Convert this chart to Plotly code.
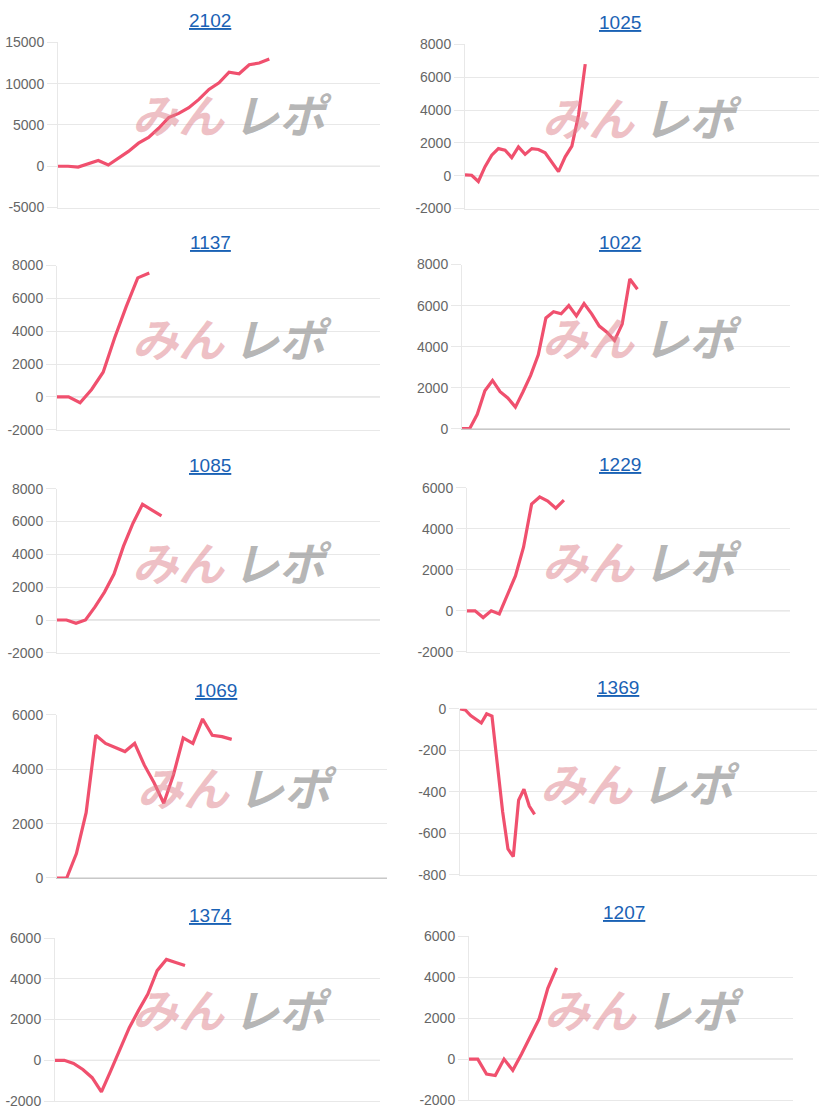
"""
Ten small profit curves (みんレポ style cards), two per row.
"""
import plotly.graph_objects as go

# chart codes, in reading order
codes = ["2102", "1025", "1137", "1022", "1085", "1229", "1069", "1369", "1374", "1207"]

# cumulative values per chart (one point per day)
v2102 = [0, 0, -100, 300, 700, 150, 1000, 1800, 2800, 3500, 4600, 5900, 6400,
         7100, 8100, 9300, 10100, 11400, 11200, 12300, 12500, 13000]
v1025 = [50, 30, -350, 550, 1250, 1650, 1550, 1100, 1750, 1300, 1650, 1600, 1400,
         800, 250, 1150, 1800, 3700, 6800]
v1137 = [0, 0, -360, 450, 1500, 3600, 5500, 7250, 7550]
v1022 = [0, 0, 700, 1850, 2350, 1800, 1500, 1050, 1800, 2600, 3600, 5400, 5700,
         5600, 6000, 5500, 6100, 5600, 5000, 4700, 4300, 5100, 7300, 6800]
v1085 = [0, 0, -200, 0, 800, 1700, 2800, 4500, 5900, 7050, 6700, 6350]
v1229 = [0, 0, -330, 0, -150, 800, 1700, 3100, 5200, 5550, 5350, 5000, 5400]
v1069 = [0, 0, 900, 2400, 5250, 4950, 4800, 4650, 4950, 4150, 3500, 2750, 3800,
         5150, 4950, 5850, 5250, 5200, 5100]
v1369 = [0, -5, -32, -48, -68, -24, -35, -265, -495, -675, -712, -440, -387,
         -468, -508]
v1374 = [0, 0, -150, -450, -850, -1550, -520, 540, 1600, 2450, 3250, 4400, 4950,
         4800, 4650]
v1207 = [0, 0, -730, -800, 0, -550, 250, 1100, 1950, 3450, 4450]

series = [v2102, v1025, v1137, v1022, v1085, v1229, v1069, v1369, v1374, v1207]

# number of day slots on each x axis
day_slots = [33, 54, 29, 44, 35, 41, 35, 68, 36, 38]

# y axis: (min, max, step)
y_scales = [(-5000, 15000, 5000), (-2000, 8000, 2000), (-2000, 8000, 2000),
            (0, 8000, 2000), (-2000, 8000, 2000), (-2000, 6000, 2000),
            (0, 6000, 2000), (-800, 0, 200), (-2000, 6000, 2000),
            (-2000, 6000, 2000)]

W, H = 820, 1115
# the rendered page came out squeezed vertically (~8px top/bottom), so undo that
Y_OFF, Y_SCALE = 7.6, 0.985


def px(x):
    return x / W


def py(y):
    return 1 - ((y - Y_OFF) / Y_SCALE) / H


# page pixels: plot box (left, right, top, bottom), title centre, watermark split point
boxes = [(58, 380, 42, 207), (465, 819, 44, 208),
         (57, 380, 265, 429), (462, 790, 264, 428),
         (57, 380, 488, 652), (467, 790, 487, 651),
         (57, 387, 714, 877), (460, 817, 708, 874),
         (55, 380, 937, 1100), (469, 793, 935, 1099)]
title_pos = [(210, 20), (620, 22), (210, 242), (620, 242), (210, 465),
             (620, 464), (216, 690), (618, 687), (210, 915), (624, 912)]
mark_pos = [(228, 113), (638, 116), (228, 336), (638, 335), (228, 560),
            (638, 559), (233, 785), (636, 781), (228, 1007), (640, 1007)]

LINE = "#f0506e"
GRID = "#e8e8e8"
ZERO = "#c8c8c8"
FONT = "Liberation Sans, Arial, sans-serif"
JP = "Noto Sans CJK JP"

fig = go.Figure()
annotations = []
shapes = []
layout = {}

for i, (code, vals, slots, (ymin, ymax, step)) in enumerate(
        zip(codes, series, day_slots, y_scales), start=1):
    n = "" if i == 1 else str(i)
    xa, ya = f"x{n}", f"y{n}"
    fig.add_trace(go.Scatter(
        x=list(range(len(vals))), y=vals, mode="lines",
        line=dict(color=LINE, width=3.2), xaxis=xa, yaxis=ya,
        showlegend=False, hoverinfo="skip",
    ))

    left, right, top, bottom = boxes[i - 1]
    ticks = list(range(ymin, ymax + 1, step))
    layout[f"xaxis{n}"] = dict(
        domain=[px(left), px(right)], range=[0, slots - 1], anchor=ya,
        showgrid=False, zeroline=False, showticklabels=False, ticks="",
        showline=True, linecolor=ZERO if ymin == 0 else GRID, linewidth=1,
        fixedrange=True,
    )
    layout[f"yaxis{n}"] = dict(
        domain=[max(py(bottom), 0), min(py(top), 1)], range=[ymin, ymax], anchor=xa,
        tickvals=ticks, ticktext=[str(t) for t in ticks],
        showgrid=True, gridcolor=GRID, gridwidth=1, zeroline=False,
        showline=True, linecolor=GRID, linewidth=1,
        ticks="outside", ticklen=10, tickcolor=GRID, tickwidth=1,
        tickfont=dict(family=FONT, size=14, color="#666666"),
        fixedrange=True,
    )

    # zero reference line
    shapes.append(dict(
        type="line", xref=f"{xa} domain", yref=ya, x0=0, x1=1, y0=0, y1=0,
        line=dict(color=ZERO, width=1), layer="below",
    ))

    tx, ty = title_pos[i - 1]
    annotations.append(dict(
        text=f"<u>{code}</u>", x=px(tx), y=py(ty), xref="paper", yref="paper",
        xanchor="center", yanchor="middle", showarrow=False,
        font=dict(family=FONT, size=19, color="#1a62b5"),
    ))

    # watermark: pink "みん" + grey "レポ"
    mx, my = mark_pos[i - 1]
    annotations.append(dict(
        text="みん", x=px(mx - 1), y=py(my), xref="paper", yref="paper",
        xanchor="right", yanchor="middle", showarrow=False,
        font=dict(family=JP, size=46, color="rgba(222,130,140,0.5)",
                  weight="bold", style="italic"),
    ))
    annotations.append(dict(
        text="レポ", x=px(mx + 3), y=py(my), xref="paper", yref="paper",
        xanchor="left", yanchor="middle", showarrow=False,
        font=dict(family=JP, size=46, color="rgba(150,150,150,0.7)",
                  weight="bold", style="italic"),
    ))

fig.update_layout(
    width=W, height=H,
    margin=dict(l=0, r=0, t=0, b=0),
    paper_bgcolor="white", plot_bgcolor="white",
    annotations=annotations, shapes=shapes,
    **layout,
)

page_fix = (
    "document.documentElement.style.overflow = 'hidden';"
    "document.body.style.overflow = 'hidden';"
    "document.body.style.margin = '0';"
)

fig.write_html(
    "out.html",
    config={"displayModeBar": False, "responsive": False},
    post_script=page_fix,
)
